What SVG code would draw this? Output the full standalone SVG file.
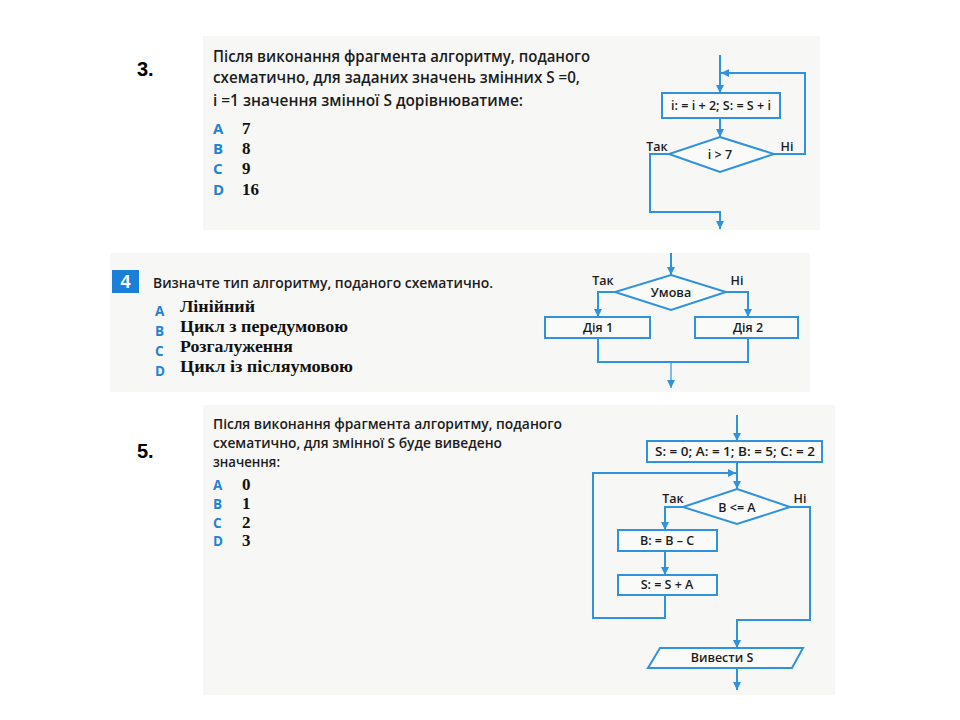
<svg xmlns="http://www.w3.org/2000/svg" width="960" height="720" viewBox="0 0 960 720">
<defs>
<style>
.bg{fill:#f7f7f5}
.ln{fill:none;stroke:#2e93dc;stroke-width:2}
.sh{fill:#ffffff;fill-opacity:0.35;stroke:#2e93dc;stroke-width:2}
.body{font-family:"Open Sans","Noto Sans",sans-serif;font-weight:600;fill:#1c1c1c}
.let{font-family:"Open Sans","Noto Sans",sans-serif;font-weight:700;fill:#1f84d6;font-size:15px}
.let2{font-family:"Open Sans","Noto Sans",sans-serif;font-weight:700;fill:#1f84d6;font-size:13.5px}
.ans{font-family:"Liberation Serif",serif;font-weight:700;fill:#111;font-size:17px}
.fc{font-family:"Open Sans","Noto Sans",sans-serif;font-weight:600;fill:#1c1c1c;font-size:12.5px;text-anchor:middle}
.num{font-family:"Liberation Sans",sans-serif;font-weight:700;fill:#000;font-size:20px}
</style>
<marker id="ah" viewBox="0 0 10 10" refX="10" refY="5" markerWidth="8" markerHeight="8" markerUnits="userSpaceOnUse" orient="auto">
<path d="M0,0 L10,5 L0,10 z" fill="#2e93dc"/>
</marker>
</defs>
<rect width="960" height="720" fill="#ffffff"/>

<!-- scanned panel backgrounds -->
<rect class="bg" x="203" y="36" width="617" height="194"/>
<rect class="bg" x="110" y="253" width="700" height="139"/>
<rect class="bg" x="203" y="405" width="632" height="290"/>

<!-- question numbers -->
<text class="num" x="137" y="76">3.</text>
<text class="num" x="137" y="458">5.</text>

<!-- Panel 1 text -->
<g id="q3-text">
<text class="body" font-size="16" x="213" y="62" textLength="377" lengthAdjust="spacingAndGlyphs">Після виконання фрагмента алгоритму, поданого</text>
<text class="body" font-size="16" x="213" y="83" textLength="367" lengthAdjust="spacingAndGlyphs">схематично, для заданих значень змінних S =0,</text>
<text class="body" font-size="16" x="213" y="106" textLength="310" lengthAdjust="spacingAndGlyphs">i =1 значення змінної S дорівнюватиме:</text>
<text class="let" x="213" y="134">A</text><text class="ans" x="242" y="134">7</text>
<text class="let" x="213" y="154">B</text><text class="ans" x="242" y="154">8</text>
<text class="let" x="213" y="174">C</text><text class="ans" x="242" y="174">9</text>
<text class="let" x="213" y="195">D</text><text class="ans" x="242" y="195">16</text>
</g>

<!-- Panel 1 flowchart -->
<g id="q3-box">
<rect class="sh" x="662" y="93" width="118" height="25"/>
<text class="fc" x="721" y="110" font-size="13" textLength="100" lengthAdjust="spacingAndGlyphs">i: = i + 2; S: = S + i</text>
</g>
<g id="q3-cond">
<polygon class="sh" points="720,137 774,154 720,172 669,154"/>
<text class="fc" x="720" y="159" font-size="13">i &gt; 7</text>
</g>
<g id="q3-labels">
<text class="fc" x="657" y="151">Так</text>
<text class="fc" x="787" y="151">Ні</text>
</g>
<g id="q3-connectors">
<path class="ln" d="M720,55 V93" marker-end="url(#ah)"/>
<path class="ln" d="M720,118 V137" marker-end="url(#ah)"/>
<path class="ln" d="M774,154 H805 V73 H721" marker-end="url(#ah)"/>
<path class="ln" d="M669,154 H650 V212 H720 V229" marker-end="url(#ah)"/>
</g>

<!-- Panel 2 text -->
<g id="q4-text">
<rect x="112" y="270" width="27" height="23" fill="#1a7fd9"/>
<text x="125.5" y="288" font-family="Liberation Sans,sans-serif" font-weight="700" font-size="18" fill="#ffffff" text-anchor="middle">4</text>
<text class="body" font-size="15" x="153" y="288" textLength="340" lengthAdjust="spacingAndGlyphs">Визначте тип алгоритму, поданого схематично.</text>
<text class="let2" x="155" y="316">A</text><text class="ans" x="180" y="312" textLength="75" lengthAdjust="spacingAndGlyphs">Лінійний</text>
<text class="let2" x="155" y="336">B</text><text class="ans" x="180" y="332" textLength="168" lengthAdjust="spacingAndGlyphs">Цикл з передумовою</text>
<text class="let2" x="155" y="356">C</text><text class="ans" x="180" y="352" textLength="113" lengthAdjust="spacingAndGlyphs">Розгалуження</text>
<text class="let2" x="155" y="376">D</text><text class="ans" x="180" y="372" textLength="173" lengthAdjust="spacingAndGlyphs">Цикл із післяумовою</text>
</g>

<!-- Panel 2 flowchart -->
<g id="q4-cond">
<polygon class="sh" points="671,275 726,292 671,310 615,292"/>
<text class="fc" x="671" y="297">Умова</text>
</g>
<g id="q4-act1">
<rect class="sh" x="545" y="317" width="105" height="21"/>
<text class="fc" x="598" y="332">Дія 1</text>
</g>
<g id="q4-act2">
<rect class="sh" x="695" y="317" width="103" height="21"/>
<text class="fc" x="748" y="332">Дія 2</text>
</g>
<g id="q4-labels">
<text class="fc" x="603" y="285">Так</text>
<text class="fc" x="737" y="285">Ні</text>
</g>
<g id="q4-connectors">
<path class="ln" d="M671,253 V275" marker-end="url(#ah)"/>
<path class="ln" d="M615,292 H598 V317" marker-end="url(#ah)"/>
<path class="ln" d="M726,292 H748 V317" marker-end="url(#ah)"/>
<path class="ln" d="M598,338 V362 H748 V338"/>
<path class="ln" d="M671,362 V388" marker-end="url(#ah)" stroke-opacity="0.6"/>
</g>

<!-- Panel 3 text -->
<g id="q5-text">
<text class="body" font-size="15" x="213" y="429" textLength="349" lengthAdjust="spacingAndGlyphs">Після виконання фрагмента алгоритму, поданого</text>
<text class="body" font-size="15" x="213" y="448" textLength="289" lengthAdjust="spacingAndGlyphs">схематично, для змінної S буде виведено</text>
<text class="body" font-size="15" x="213" y="467" textLength="67" lengthAdjust="spacingAndGlyphs">значення:</text>
<text class="let2" x="213" y="490">A</text><text class="ans" x="242" y="490">0</text>
<text class="let2" x="213" y="509">B</text><text class="ans" x="242" y="509">1</text>
<text class="let2" x="213" y="528">C</text><text class="ans" x="242" y="528">2</text>
<text class="let2" x="213" y="546">D</text><text class="ans" x="242" y="546">3</text>
</g>

<!-- Panel 3 flowchart -->
<g id="q5-init">
<rect class="sh" x="647" y="441" width="175" height="21"/>
<text class="fc" x="735" y="456" textLength="160" lengthAdjust="spacingAndGlyphs">S: = 0; A: = 1; B: = 5; C: = 2</text>
</g>
<g id="q5-cond">
<polygon class="sh" points="737,489 790,507 737,524 683,507"/>
<text class="fc" x="737" y="512">B &lt;= A</text>
</g>
<g id="q5-b">
<rect class="sh" x="618" y="530" width="99" height="21"/>
<text class="fc" x="667" y="545">B: = B – C</text>
</g>
<g id="q5-s">
<rect class="sh" x="618" y="575" width="99" height="20"/>
<text class="fc" x="667" y="589">S: = S + A</text>
</g>
<g id="q5-out">
<polygon class="sh" points="660,648 803,648 792,668 648,668"/>
<text class="fc" x="722" y="662">Вивести S</text>
</g>
<g id="q5-labels">
<text class="fc" x="673" y="503">Так</text>
<text class="fc" x="800" y="503">Ні</text>
</g>
<g id="q5-connectors">
<path class="ln" d="M737,415 V441" marker-end="url(#ah)"/>
<path class="ln" d="M737,462 V489" marker-end="url(#ah)"/>
<path class="ln" d="M665,595 V618 H593 V473 H736" marker-end="url(#ah)"/>
<path class="ln" d="M683,507 H665 V530" marker-end="url(#ah)"/>
<path class="ln" d="M665,551 V575" marker-end="url(#ah)"/>
<path class="ln" d="M790,507 H810 V620 H737 V648" marker-end="url(#ah)"/>
<path class="ln" d="M737,668 V690" marker-end="url(#ah)"/>
</g>
</svg>
